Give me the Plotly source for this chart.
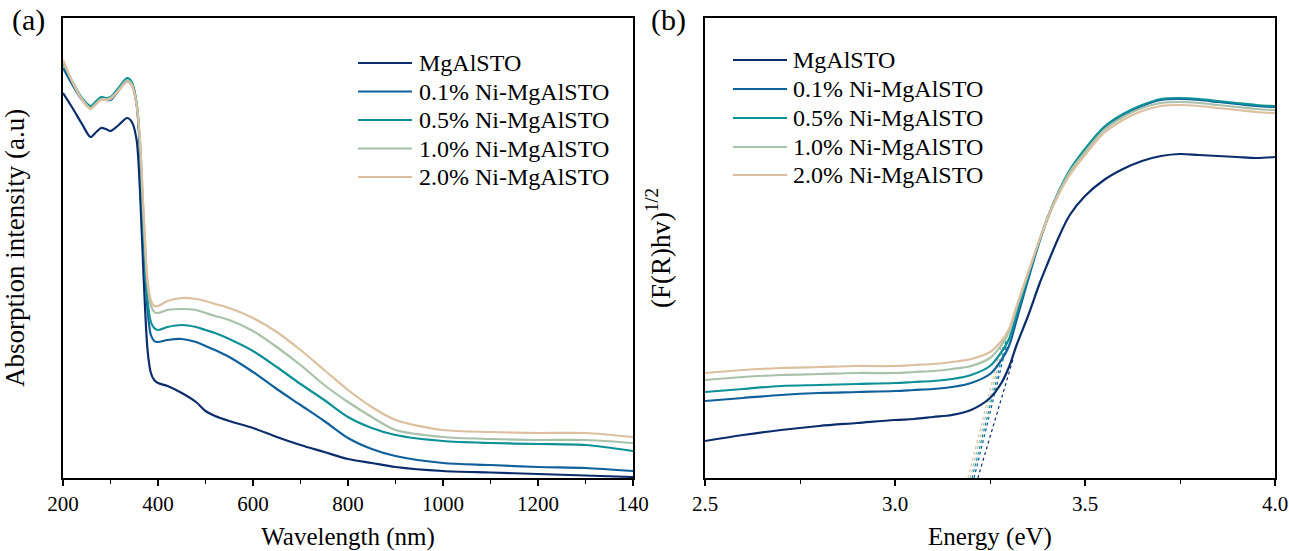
import plotly.graph_objects as go

# ---------------- data: panel (a) UV-vis absorption ----------------
wavelength = [200, 220, 240, 258, 270, 280, 290, 300, 315, 335, 345, 355, 362, 370, 378, 385, 392,
              400, 420, 450, 480, 500, 520, 550, 600, 650, 700, 750, 800, 850, 900, 1000, 1100, 1200, 1300, 1400]
abs_mgalsto = [385, 370, 354, 341, 346, 350, 349, 347, 352, 360, 356, 338, 288, 198, 128, 105, 98,
               95, 92, 85, 76, 67, 62, 57, 50, 41, 33, 26, 19, 15, 11, 7, 5.5, 4, 2.5, 1]
abs_ni01 = [410, 393, 378, 370, 375, 379, 378, 378, 386, 398, 394, 373, 328, 238, 168, 143, 137,
            136, 138, 139, 136, 132, 128, 121, 106, 89, 73, 57, 40, 29, 22, 15, 13, 11, 10, 7]
abs_ni05 = [415, 396, 380, 372, 377, 381, 380, 381, 389, 400, 396, 375, 333, 248, 178, 156, 150,
            148, 151, 153, 151, 148, 145, 139, 127, 111, 94, 78, 61, 50, 43, 37, 35, 34, 33, 27]
abs_ni10 = [416, 396, 379, 370, 375, 379, 379, 380, 387, 398, 394, 374, 338, 258, 193, 173, 166,
            165, 168, 169, 168, 165, 162, 158, 147, 131, 113, 93, 76, 61, 48, 41, 39, 38, 38, 35]
abs_ni20 = [418, 396, 378, 369, 374, 378, 378, 379, 386, 396, 392, 373, 338, 263, 198, 178, 172,
            172, 177, 180, 179, 177, 174, 170, 160, 146, 128, 108, 88, 71, 58, 48, 46, 45, 45, 41]

# ---------------- data: panel (b) Tauc plot ----------------
energy = [2.5, 2.6, 2.7, 2.8, 2.9, 3.0, 3.05, 3.1, 3.15, 3.2, 3.25, 3.28, 3.3, 3.32, 3.35, 3.38, 3.4,
          3.43, 3.46, 3.5, 3.55, 3.6, 3.65, 3.7, 3.75, 3.8, 3.85, 3.9, 3.95, 4.0]
tauc_mgalsto = [37, 43, 48, 52, 55, 58, 59, 61, 63, 68, 80, 95, 111, 133, 162, 194, 213,
                240, 263, 282, 298, 309, 317, 322, 324, 323, 322, 321, 320, 321]
tauc_ni01 = [77, 80, 83, 85, 86, 87, 88, 89, 91, 95, 104, 118, 132, 158, 198, 236, 258,
             285, 307, 328, 350, 363, 372, 378, 379, 378, 376, 374, 372, 371]
tauc_ni05 = [86, 89, 92, 93, 94, 95, 96, 97, 99, 103, 112, 126, 139, 164, 201, 237, 259,
             286, 308, 329, 351, 364, 373, 379, 380, 379, 377, 375, 373, 372]
tauc_ni10 = [98, 101, 103, 104, 105, 105, 106, 107, 109, 112, 120, 133, 146, 170, 204, 238, 259,
             285, 306, 326, 348, 361, 370, 375, 376, 375, 373, 371, 369, 368]
tauc_ni20 = [105, 108, 110, 111, 112, 112, 113, 114, 116, 119, 126, 137, 149, 172, 205, 238, 258,
             283, 303, 323, 345, 358, 367, 372, 373, 372, 370, 368, 366, 365]

# tangent (band-gap extrapolation) lines
tangent_x = {
    "MgAlSTO": [3.218, 3.31],
    "0.1% Ni-MgAlSTO": [3.208, 3.297],
    "0.5% Ni-MgAlSTO": [3.203, 3.293],
    "1.0% Ni-MgAlSTO": [3.198, 3.29],
    "2.0% Ni-MgAlSTO": [3.192, 3.285],
}
tangent_y = {
    "MgAlSTO": [0, 118],
    "0.1% Ni-MgAlSTO": [0, 138],
    "0.5% Ni-MgAlSTO": [0, 138],
    "1.0% Ni-MgAlSTO": [0, 140],
    "2.0% Ni-MgAlSTO": [0, 140],
}

names = ["MgAlSTO", "0.1% Ni-MgAlSTO", "0.5% Ni-MgAlSTO", "1.0% Ni-MgAlSTO", "2.0% Ni-MgAlSTO"]
colors = ["#0b2d6c", "#10609c", "#0d9197", "#a9c0a9", "#dcbf9f"]
abs_series = [abs_mgalsto, abs_ni01, abs_ni05, abs_ni10, abs_ni20]
tauc_series = [tauc_mgalsto, tauc_ni01, tauc_ni05, tauc_ni10, tauc_ni20]

FONT = "Liberation Serif"
W, H = 1289, 551

fig = go.Figure()

for n, c, ys in zip(names, colors, abs_series):
    fig.add_trace(go.Scatter(x=wavelength, y=ys, name=n, mode="lines", showlegend=False,
                             line=dict(color=c, width=2.2, shape="spline", smoothing=0.8),
                             xaxis="x", yaxis="y"))

for n, c in zip(names, colors):
    fig.add_trace(go.Scatter(x=tangent_x[n], y=tangent_y[n], mode="lines", showlegend=False,
                             line=dict(color=c, width=1.2, dash="dot"),
                             xaxis="x2", yaxis="y2", hoverinfo="skip"))

for n, c, ys in zip(names, colors, tauc_series):
    fig.add_trace(go.Scatter(x=energy, y=ys, name=n, mode="lines", showlegend=False,
                             line=dict(color=c, width=2.2, shape="spline", smoothing=1.0),
                             xaxis="x2", yaxis="y2"))

ydom = [(H - 478) / H, (H - 18) / H]
axis_common = dict(showline=True, linecolor="black", linewidth=1.5, mirror=True,
                   showgrid=False, zeroline=False, automargin=False)

# manual legends (line sample + label) for each panel
shapes = []
annotations = []
legend_rows_a = [63, 91.5, 120, 148.5, 177]
legend_rows_b = [60, 89, 118, 147, 175]
for rows, x0, x1, xt in [(legend_rows_a, 358, 412, 417), (legend_rows_b, 733, 787, 791)]:
    for n, c, py in zip(names, colors, rows):
        shapes.append(dict(type="line", xref="paper", yref="paper",
                           x0=x0 / W, x1=x1 / W, y0=1 - py / H, y1=1 - py / H,
                           line=dict(color=c, width=2.2)))
        annotations.append(dict(text=n, x=xt / W, y=1 - py / H, xref="paper", yref="paper",
                                showarrow=False, xanchor="left", yanchor="middle",
                                font=dict(size=24)))

annotations += [
    dict(text="(a)", x=28 / W, y=1 - 20 / H, xref="paper", yref="paper",
         showarrow=False, font=dict(size=30), xanchor="center", yanchor="middle"),
    dict(text="(b)", x=668 / W, y=1 - 20 / H, xref="paper", yref="paper",
         showarrow=False, font=dict(size=30), xanchor="center", yanchor="middle"),
]

fig.update_layout(
    width=W, height=H,
    margin=dict(l=0, r=0, t=0, b=0),
    plot_bgcolor="white", paper_bgcolor="white",
    font=dict(family=FONT, size=22, color="black"),
    showlegend=False,
    xaxis=dict(domain=[63 / W, 633 / W], range=[200, 1400], anchor="y",
               tickvals=[200, 400, 600, 800, 1000, 1200, 1400],
               ticktext=["200", "400", "600", "800", "1000", "1200", "140"],
               ticks="outside", ticklen=6, tickwidth=1.5, tickcolor="black",
               minor=dict(ticks="outside", ticklen=4, tickwidth=1.2, tickcolor="black", dtick=100),
               tickfont=dict(size=21),
               title=dict(text="Wavelength (nm)", font=dict(size=25), standoff=14),
               **axis_common),
    yaxis=dict(domain=ydom, range=[0, 460], anchor="x", showticklabels=False, ticks="",
               title=dict(text="Absorption intensity (a.u)", font=dict(size=27), standoff=30),
               **axis_common),
    xaxis2=dict(domain=[705 / W, 1275 / W], range=[2.5, 4.0], anchor="y2",
                tickvals=[2.5, 3.0, 3.5, 4.0], ticktext=["2.5", "3.0", "3.5", "4.0"],
                ticks="outside", ticklen=6, tickwidth=1.5, tickcolor="black",
                minor=dict(ticks="outside", ticklen=4, tickwidth=1.2, tickcolor="black", dtick=0.25),
                tickfont=dict(size=21),
                title=dict(text="Energy (eV)", font=dict(size=25), standoff=14),
                **axis_common),
    yaxis2=dict(domain=ydom, range=[0, 460], anchor="x2", showticklabels=False, ticks="",
                title=dict(text="(F(R)hv)<sup>1/2</sup>", font=dict(size=27), standoff=25),
                **axis_common),
    shapes=shapes,
    annotations=annotations,
)

fig.write_html("out.html")
